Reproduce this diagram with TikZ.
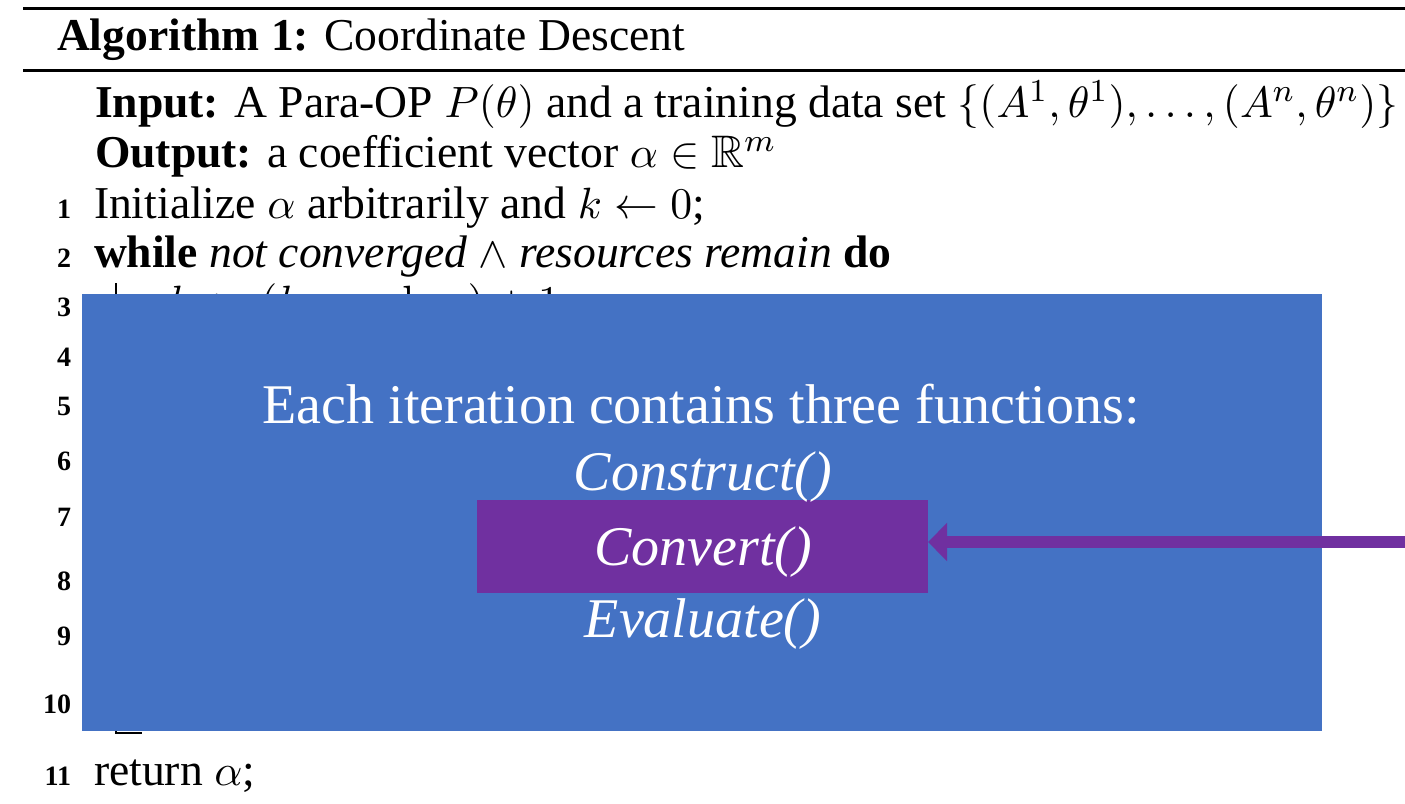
\documentclass[tikz,border=0pt]{standalone}
\usepackage{amsmath}
\usepackage{amssymb}
\usepackage[no-math]{fontspec}
\setmainfont{Liberation Serif}
\usetikzlibrary{arrows.meta, positioning}

\definecolor{iterblue}{HTML}{4472C4}
\definecolor{convpurple}{HTML}{7030A0}

\begin{document}
\begin{tikzpicture}[
    x=0.25pt, y=-0.25pt,
    every node/.style={inner sep=0pt, outer sep=0pt},
    algtext/.style={anchor=base west, font=\fontsize{11.4}{13.7}\selectfont},
    lineno/.style={anchor=base east, font=\fontsize{7}{8}\selectfont\bfseries},
    panel/.style={rectangle, fill=iterblue, minimum width=310pt, minimum height=109.25pt},
    highlight/.style={rectangle, fill=convpurple, minimum width=112.75pt, minimum height=23.25pt},
    whitetext/.style={anchor=base, text=white, font=\fontsize{14}{16.8}\selectfont},
    arrow/.style={-{Triangle[length=4.75pt, width=9.25pt]}, line width=3pt, draw=convpurple}
]

\useasboundingbox (0,0) rectangle (1405,804);
\clip (0,0) rectangle (1405,804);
\fill[white] (0,0) rectangle (1405,804);

% algorithm listing
\draw[line width=0.75pt] (23,8) -- (1405,8);
\draw[line width=0.75pt] (23,70) -- (1405,70);
\node[algtext] (title) at (57,50) {\textbf{Algorithm 1:} Coordinate Descent};

\node[algtext] (input) at (95,117) {\textbf{Input:} A Para-OP $P(\theta)$ and a training data set $\{(A^1,\theta^1),\ldots,(A^n,\theta^n)\}$};
\node[algtext] (output) at (95,167) {\textbf{Output:} a coefficient vector $\alpha \in \mathbb{R}^m$};
\node[algtext] (line1) at (94,218) {Initialize $\alpha$ arbitrarily and $k \leftarrow 0$;};
\node[algtext] (line2) at (94,267) {\textbf{while} \textit{not converged} $\wedge$ \textit{resources remain} \textbf{do}};
\node[algtext] (line3) at (168,316) {$k \leftarrow (k \mod m)+1$};
\node[algtext] (line11) at (94,785) {return $\alpha$;};

\node[lineno] (no1) at (71,218) {1};
\node[lineno] (no2) at (71,267) {2};
\node[lineno] (no3) at (71,316) {3};
\node[lineno] (no4) at (71,366) {4};
\node[lineno] (no5) at (71,415) {5};
\node[lineno] (no6) at (71,470) {6};
\node[lineno] (no7) at (71,526) {7};
\node[lineno] (no8) at (71,590) {8};
\node[lineno] (no9) at (71,645) {9};
\node[lineno] (no10) at (71,713) {10};
\node[lineno] (no11) at (71,785) {11};

\draw[line width=0.5pt] (116,283) -- (116,733) -- (142,733);

% overlay
\node[panel] (iterbox) at (702,512.5) {};
\node[highlight] (convbox) at (702.5,546.5) {};

\node[whitetext] (heading) at (701,423) {Each iteration contains three functions:};
\node[whitetext] (construct) at (703,490) {\textit{Construct()}};
\node[whitetext] (convert) at (703,565) {\textit{Convert()}};
\node[whitetext] (evaluate) at (703,637) {\textit{Evaluate()}};

\coordinate (arrowstart) at (1405,542);
\draw[arrow] (arrowstart) -- (arrowstart -| convbox.east);

\end{tikzpicture}
\end{document}
